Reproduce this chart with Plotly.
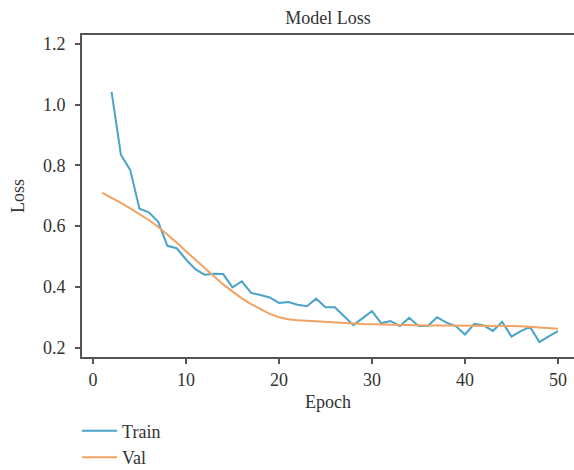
import plotly.graph_objects as go

train_epochs = list(range(2, 51))
train_loss = [1.042, 0.835, 0.785, 0.657, 0.645, 0.615, 0.535, 0.527, 0.49, 0.458,
              0.44, 0.443, 0.442, 0.398, 0.418, 0.38, 0.373, 0.365, 0.347, 0.35,
              0.341, 0.336, 0.361, 0.333, 0.333, 0.304, 0.274, 0.297, 0.32, 0.28,
              0.287, 0.271, 0.298, 0.271, 0.271, 0.30, 0.282, 0.271, 0.243, 0.278,
              0.273, 0.255, 0.285, 0.236, 0.254, 0.268, 0.218, 0.237, 0.254]

val_epochs = list(range(1, 51))
val_loss = [0.709, 0.693, 0.676, 0.658, 0.64, 0.62, 0.598, 0.573, 0.546, 0.517,
            0.49, 0.463, 0.437, 0.408, 0.385, 0.362, 0.343, 0.326, 0.311, 0.300,
            0.293, 0.290, 0.288, 0.286, 0.284, 0.282, 0.280, 0.279, 0.278, 0.277,
            0.276, 0.275, 0.275, 0.274, 0.274, 0.273, 0.273, 0.273, 0.273, 0.273,
            0.273, 0.273, 0.273, 0.272, 0.271, 0.270, 0.268, 0.266, 0.264, 0.262]

x_ticks = [0, 10, 20, 30, 40, 50]
y_ticks = [0.2, 0.4, 0.6, 0.8, 1.0, 1.2]
y_tick_text = ["0.2", "0.4", "0.6", "0.8", "1.0", "1.2"]

FONT = "Liberation Serif, Times New Roman, serif"
AX = "#555555"
TXT = "#333333"

fig = go.Figure()
fig.add_trace(go.Scatter(x=train_epochs, y=train_loss, mode="lines", name="Train",
                         line=dict(color="#4aa3c8", width=2)))
fig.add_trace(go.Scatter(x=val_epochs, y=val_loss, mode="lines", name="Val",
                         line=dict(color="#f2a263", width=2)))

fig.update_layout(
    width=574, height=470,
    margin=dict(l=82, r=0, t=35, b=113),
    paper_bgcolor="white", plot_bgcolor="white",
    font=dict(family=FONT, size=18, color=TXT),
    title=dict(text="Model Loss", x=0.5, xref="paper", xanchor="center",
               y=1, yref="container", yanchor="top", pad=dict(t=11),
               font=dict(family=FONT, size=18, color=TXT)),
    showlegend=True,
    legend=dict(x=-0.01, xref="paper", y=0.122, yref="container",
                xanchor="left", yanchor="top", itemwidth=35,
                font=dict(family=FONT, size=18, color=TXT),
                bgcolor="rgba(0,0,0,0)", tracegroupgap=0),
    xaxis=dict(range=[-1.18, 51.72], tickvals=x_ticks, ticks="outside",
               ticklen=5, tickcolor=AX, tickwidth=1.5, showline=True, linecolor=AX,
               linewidth=2, mirror=True, showgrid=False, zeroline=False,
               title=dict(text="Epoch", standoff=7, font=dict(size=18)),
               tickfont=dict(size=18)),
    yaxis=dict(range=[0.169, 1.229], tickvals=y_ticks, ticktext=y_tick_text,
               ticks="outside", ticklen=5, tickcolor=AX, tickwidth=1.5,
               ticklabelstandoff=6,
               showline=True, linecolor=AX, linewidth=2, mirror=False,
               showgrid=False, zeroline=False,
               title=dict(text="Loss", standoff=14, font=dict(size=18)),
               tickfont=dict(size=18)),
)

fig.write_html("out.html")
